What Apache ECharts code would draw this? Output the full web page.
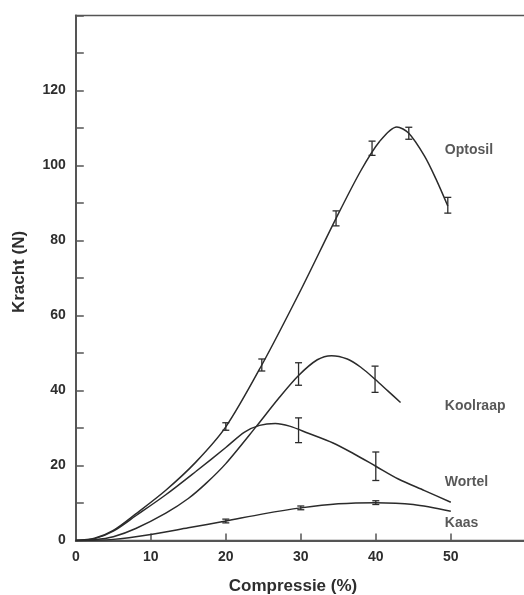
<!DOCTYPE html>
<html>
<head>
<meta charset="utf-8">
<script src="https://cdn.jsdelivr.net/npm/echarts@6/dist/echarts.min.js"></script>
<style>
html,body{margin:0;padding:0;background:#fff;}
#c{width:524px;height:595px;}
</style>
</head>
<body>
<div id="c"></div>
<script>
// X ticks / Y ticks
const xTicks = [0, 10, 20, 30, 40, 50, 60];
const yTicks = [0, 20, 40, 60, 80, 100, 120];

// Fitted curves
const optosilCurve = [[0,0],[2.5,0.6],[5,2.7],[8,7.1],[12,13.4],[16,20.9],[20,30.3],[24.8,46.8],[30,66.8],[34.7,85.9],[38,98.6],[40.5,106.4],[42.8,110.3],[44.4,108.6],[46.5,102.5],[48,96.5],[49.6,89.2]];
const koolraapCurve = [[0,0],[2.5,0.2],[5,1.0],[8,3.2],[12,7.3],[15,11.2],[17.4,15.3],[20,20.5],[24.1,30.5],[27,37.8],[29.7,44.0],[32.2,48.2],[34.1,49.3],[36.2,48.4],[38,46.2],[39.9,43.0],[41.6,39.9],[43.3,36.8]];
const wortelCurve = [[0,0],[2.5,0.5],[5,2.5],[8,6.6],[12,12.2],[16,18.4],[20,24.8],[22.5,28.9],[24.5,30.7],[26.6,31.2],[28.5,30.5],[31,28.6],[34.3,26.0],[37,23.2],[40,19.8],[43,16.4],[46.5,13.3],[50,10.2]];
const kaasCurve = [[0,0],[5,0.3],[10,1.6],[15,3.4],[20,5.2],[25,7.1],[30,8.7],[35,9.8],[40,10.1],[45,9.6],[50,7.8]];

// Measured points with error bars
const optosilX = [20, 24.8, 34.7, 39.5, 44.4, 49.6];
const optosilY = [30.4, 46.8, 85.9, 104.6, 108.6, 89.4];
const optosilErr = [1.0, 1.6, 2.0, 1.9, 1.6, 2.1];
const koolraapX = [29.7, 39.9];
const koolraapY = [44.4, 43.0];
const koolraapErr = [3.0, 3.5];
const wortelX = [29.7, 40];
const wortelY = [29.4, 19.8];
const wortelErr = [3.3, 3.8];
const kaasX = [20, 30, 40];
const kaasY = [5.2, 8.7, 10.1];
const kaasErr = [0.5, 0.5, 0.5];

// Series labels
const seriesNames = ['Optosil', 'Koolraap', 'Wortel', 'Kaas'];
const labelAnchors = [[49.2, 104], [49.2, 35.7], [49.2, 15.5], [49.2, 4.6]];

const INK = '#2b2b2b';
const TXT = '#2e2e2e';
const FONT = '"Liberation Sans", Arial, Helvetica, sans-serif';

function errData(xs, ys, es) {
  return xs.map((x, i) => [x, ys[i], ys[i] - es[i], ys[i] + es[i]]);
}

function errSeries(xs, ys, es) {
  return {
    type: 'custom',
    data: errData(xs, ys, es),
    z: 5,
    renderItem: function (params, api) {
      const x = api.value(0);
      const lo = api.coord([x, api.value(2)]);
      const hi = api.coord([x, api.value(3)]);
      const w = 3.5;
      const st = { stroke: INK, lineWidth: 1.3 };
      return {
        type: 'group',
        children: [
          { type: 'line', shape: { x1: lo[0], y1: lo[1], x2: hi[0], y2: hi[1] }, style: st },
          { type: 'line', shape: { x1: lo[0] - w, y1: lo[1], x2: lo[0] + w, y2: lo[1] }, style: st },
          { type: 'line', shape: { x1: hi[0] - w, y1: hi[1], x2: hi[0] + w, y2: hi[1] }, style: st }
        ]
      };
    }
  };
}

function curveSeries(name, data) {
  return {
    name: name,
    type: 'line',
    data: data,
    smooth: 0.3,
    showSymbol: false,
    lineStyle: { color: INK, width: 1.5 },
    z: 3
  };
}

const chart = echarts.init(document.getElementById('c'), null, { renderer: 'canvas' });

chart.setOption({
  animation: false,
  backgroundColor: '#ffffff',
  grid: { left: 75.8, width: 450, top: 15.5, bottom: 54.5, show: true, borderColor: '#555', borderWidth: 1.5, containLabel: false, outerBoundsMode: 'none' },
  xAxis: {
    type: 'value', min: 0, max: 60, interval: 10,
    axisLine: { show: true, onZero: false, lineStyle: { color: '#555', width: 2 } },
    axisTick: { show: true, inside: true, length: 7, lineStyle: { color: '#555', width: 1.5 } },
    splitLine: { show: false },
    axisLabel: {
      color: TXT, fontSize: 14, fontWeight: 'bold', fontFamily: FONT, margin: 10,
      formatter: v => (xTicks.indexOf(v) >= 0 && v < 60) ? String(v) : ''
    }
  },
  yAxis: {
    type: 'value', min: 0, max: 140, interval: 10,
    axisLine: { show: true, onZero: false, lineStyle: { color: '#555', width: 2 } },
    axisTick: { show: true, inside: true, length: 8, lineStyle: { color: '#555', width: 1.5 } },
    splitLine: { show: false },
    axisLabel: {
      color: TXT, fontSize: 14, fontWeight: 'bold', fontFamily: FONT, margin: 10,
      formatter: v => yTicks.indexOf(v) >= 0 ? String(v) : ''
    }
  },
  graphic: [
    { type: 'text', position: [293, 586], style: { text: 'Compressie (%)', fill: TXT, font: 'bold 17px ' + FONT, textAlign: 'center', textVerticalAlign: 'middle' }, silent: true },
    { type: 'text', rotation: Math.PI / 2, position: [19, 272], style: { text: 'Kracht (N)', fill: TXT, font: 'bold 17px ' + FONT, textAlign: 'center', textVerticalAlign: 'middle' }, silent: true }
  ],
  series: [
    curveSeries('Optosil', optosilCurve),
    curveSeries('Koolraap', koolraapCurve),
    curveSeries('Wortel', wortelCurve),
    curveSeries('Kaas', kaasCurve),
    errSeries(optosilX, optosilY, optosilErr),
    errSeries(koolraapX, koolraapY, koolraapErr),
    errSeries(wortelX, wortelY, wortelErr),
    errSeries(kaasX, kaasY, kaasErr),
    {
      type: 'scatter',
      symbolSize: 0,
      data: labelAnchors.map((p, i) => ({ value: p, name: seriesNames[i] })),
      label: {
        show: true, position: 'right', distance: 0,
        formatter: p => p.name,
        color: TXT, fontSize: 14, fontWeight: 'bold', fontFamily: FONT
      },
      silent: true,
      z: 6
    }
  ]
});
</script>
</body>
</html>
